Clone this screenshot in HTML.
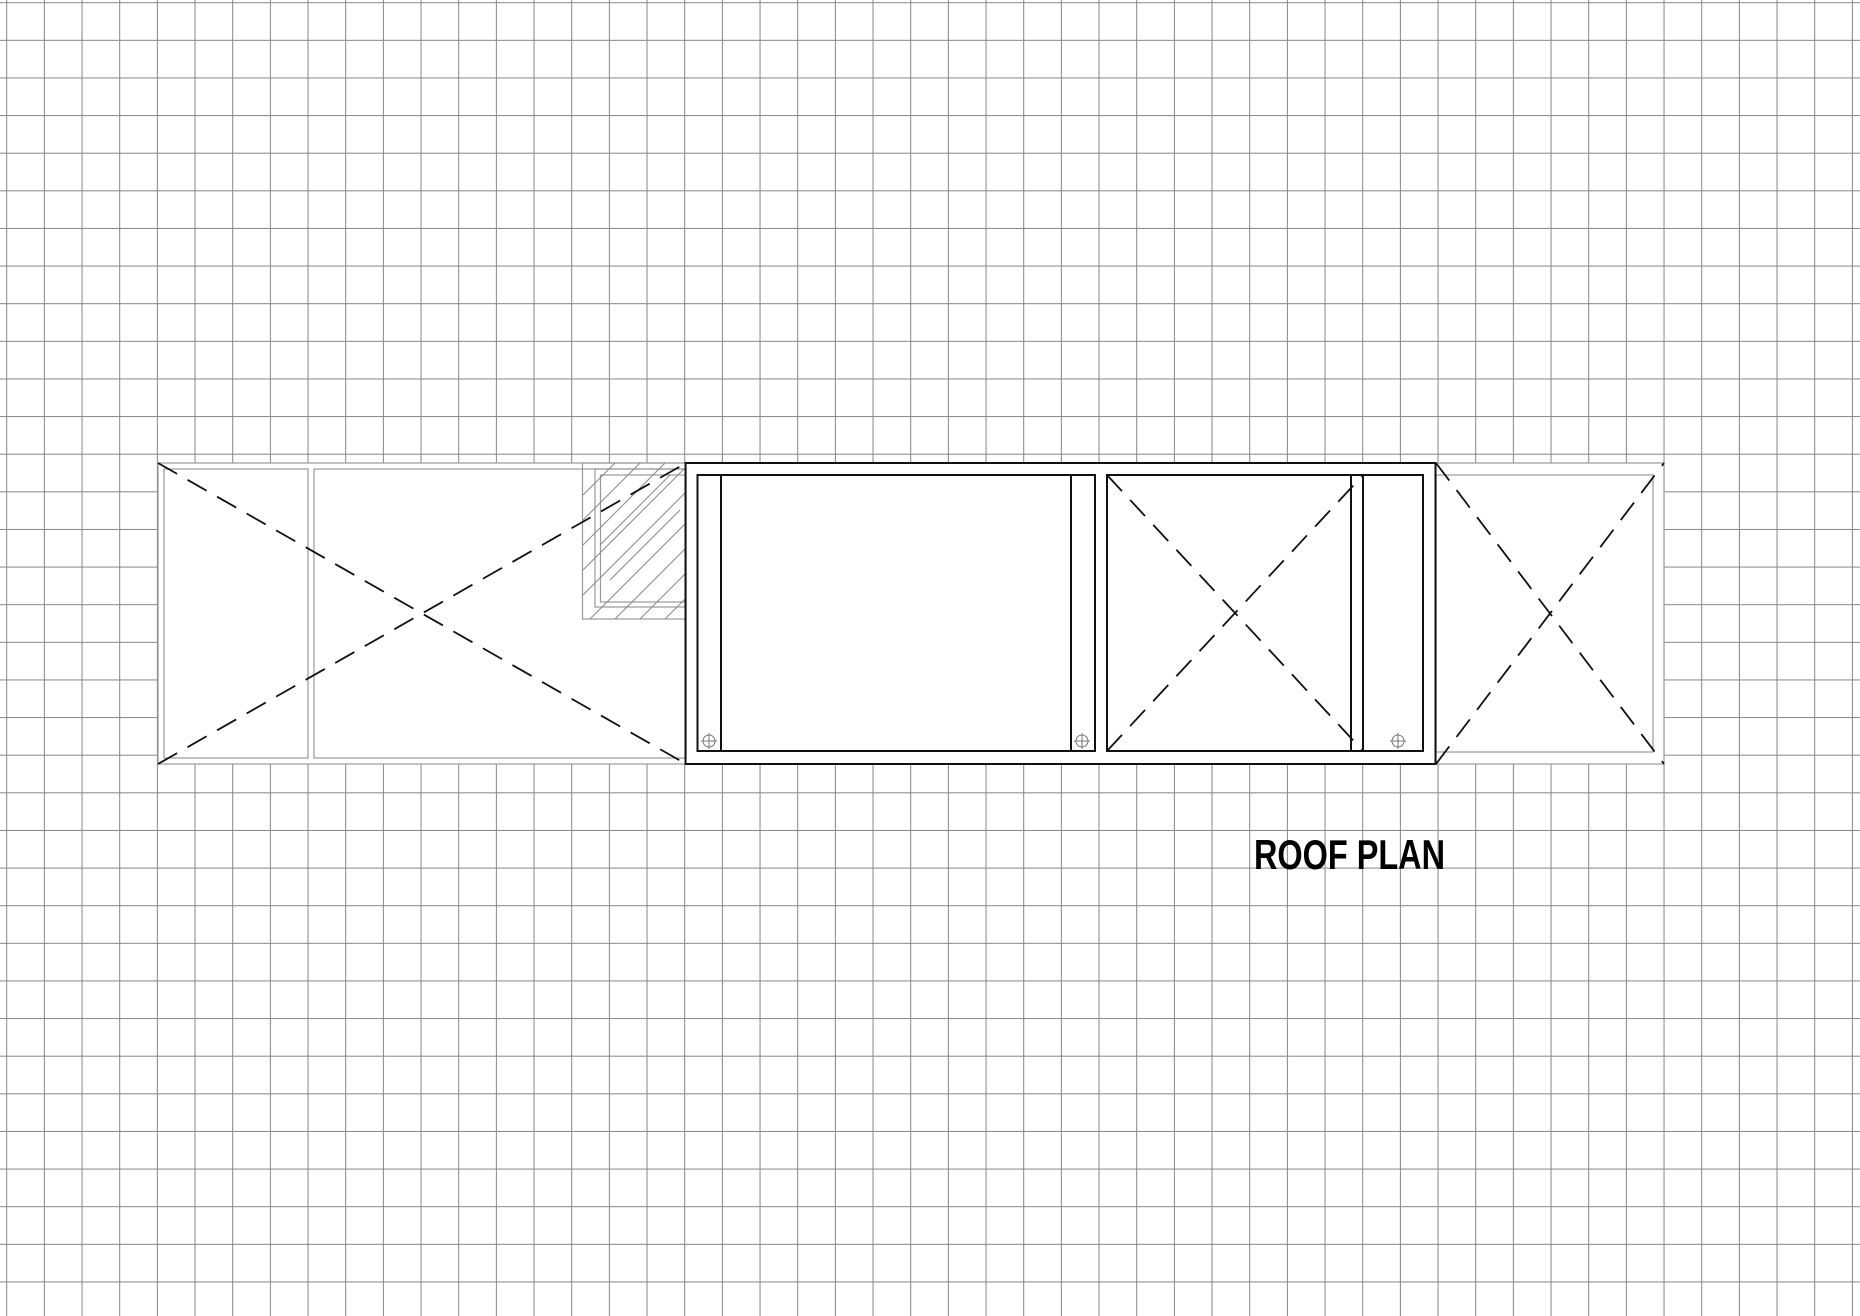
<!DOCTYPE html>
<html><head><style>html,body{margin:0;padding:0;background:#fff}svg{display:block}</style></head>
<body>
<svg width="1860" height="1316" xmlns="http://www.w3.org/2000/svg">
<defs>
<pattern id="g" x="6.2" y="2.2" width="37.667" height="37.625" patternUnits="userSpaceOnUse">
<path d="M0.5 0V37.625M0 0.5H37.667" stroke="#858585" stroke-width="1" fill="none"/>
</pattern>
</defs>
<rect width="1860" height="1316" fill="#fff"/>
<rect width="1860" height="1316" fill="url(#g)"/>
<rect x="158" y="463" width="1506" height="301" fill="#fff"/>
<g stroke="#999" fill="none" stroke-width="1.2">
<rect x="158" y="463" width="528" height="301"/>
<rect x="164" y="469" width="144" height="289"/>
<rect x="314" y="469" width="372" height="289"/>
<rect x="1436" y="463" width="228" height="301"/>
<rect x="1436" y="475" width="217" height="277"/>
<rect x="582.5" y="463" width="103" height="156"/>
<rect x="595" y="469" width="91" height="138"/>
<rect x="600.5" y="475" width="85" height="127"/>
</g>
<g stroke="#888" stroke-width="1">
<line x1="583" y1="495" x2="615" y2="463"/>
<line x1="583" y1="520" x2="640" y2="463"/>
<line x1="583" y1="545" x2="665" y2="463"/>
<line x1="583" y1="570" x2="686" y2="467"/>
<line x1="583" y1="595" x2="686" y2="492"/>
<line x1="590" y1="619" x2="686" y2="523"/>
<line x1="615" y1="619" x2="686" y2="548"/>
<line x1="640" y1="619" x2="686" y2="573"/>
<line x1="665" y1="619" x2="686" y2="598"/>
<line x1="600" y1="545" x2="670" y2="475"/>
<line x1="610" y1="580" x2="680" y2="510"/>
</g>
<g stroke="#111" fill="none" stroke-width="2">
<rect x="685.5" y="463" width="750" height="301"/>
<rect x="697.5" y="475" width="23.5" height="276"/>
<rect x="721" y="475" width="350" height="276"/>
<rect x="1071" y="475" width="24" height="276"/>
<rect x="1107" y="475" width="244" height="276"/>
<rect x="1351" y="475" width="12" height="276"/>
<rect x="1363" y="475" width="60" height="276"/>
</g>
<g stroke="#111" stroke-width="1.8" stroke-dasharray="22 12" fill="none">
<line x1="158" y1="463" x2="686" y2="764"/>
<line x1="158" y1="764" x2="686" y2="463"/>
<line x1="1107" y1="475" x2="1363" y2="751"/>
<line x1="1107" y1="751" x2="1363" y2="475"/>
<line x1="1436" y1="463" x2="1664" y2="764"/>
<line x1="1436" y1="764" x2="1664" y2="463"/>
</g>
<g stroke="#777" stroke-width="1" fill="none">
<circle cx="709" cy="741" r="6"/><path d="M701 741h16M709 733v16"/>
<circle cx="1082" cy="741" r="6"/><path d="M1074 741h16M1082 733v16"/>
<circle cx="1398" cy="741" r="6"/><path d="M1390 741h16M1398 733v16"/>
</g>
<text x="1254" y="869" font-family="Liberation Sans, sans-serif" font-weight="bold" font-size="42" textLength="191" lengthAdjust="spacingAndGlyphs" fill="#000">ROOF PLAN</text>
</svg>
</body></html>
